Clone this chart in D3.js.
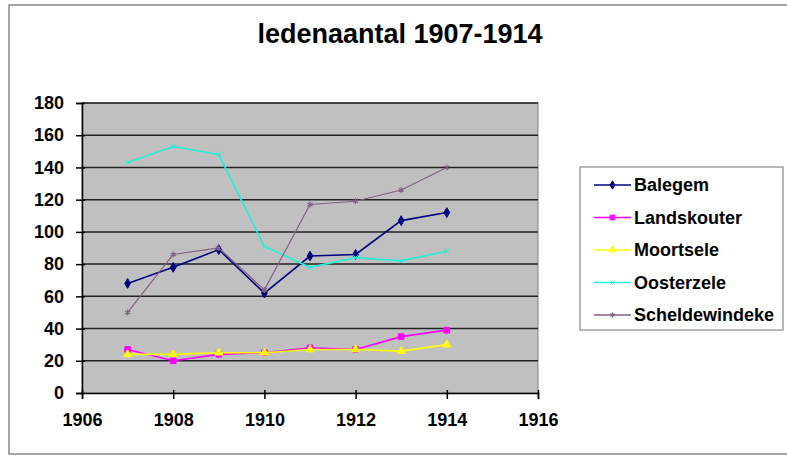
<!DOCTYPE html>
<html>
<head>
<meta charset="utf-8">
<script src="https://cdn.jsdelivr.net/npm/d3@7"></script>
<style>
  body { margin: 0; background: #fff; }
  text { font-family: "Liberation Sans", Arial, sans-serif; font-weight: bold; fill: #000; }
</style>
</head>
<body>
<div id="chart"></div>
<script>
var width = 787,
    height = 457;

// data
var years = [1907, 1908, 1909, 1910, 1911, 1912, 1913, 1914];
var balegem = [68, 78, 89, 62, 85, 86, 107, 112];
var landskouter = [27, 20, 24, 25, 28, 27, 35, 39];
var moortsele = [24, 24, 25, 25, 27, 27, 26, 30];
var oosterzele = [143, 153, 148, 91, 78, 84, 82, 88];
var scheldewindeke = [50, 86, 90, 64, 117, 119, 126, 140];
var seriesNames = ["Balegem", "Landskouter", "Moortsele", "Oosterzele", "Scheldewindeke"];
var xTicks = [1906, 1908, 1910, 1912, 1914, 1916];
var yTicks = [0, 20, 40, 60, 80, 100, 120, 140, 160, 180];

var series = [
  {name: seriesNames[0], values: balegem, color: "#000080", marker: "diamond"},
  {name: seriesNames[1], values: landskouter, color: "#ff00ff", marker: "square"},
  {name: seriesNames[2], values: moortsele, color: "#ffff00", marker: "triangle"},
  {name: seriesNames[3], values: oosterzele, color: "#22f0d8", marker: "x"},
  {name: seriesNames[4], values: scheldewindeke, color: "#806080", marker: "star"}
];

var plot = {left: 82, top: 103, right: 538, bottom: 393};

var svg = d3.select("#chart")
  .append("svg")
    .attr("width", width)
    .attr("height", height);

// chart area border
svg.append("rect")
  .attr("x", 9).attr("y", 5)
  .attr("width", 800).attr("height", 449)
  .attr("fill", "#fff")
  .attr("stroke", "#888")
  .attr("stroke-width", 1.5);

// title
svg.append("text")
  .attr("x", 400).attr("y", 43)
  .attr("text-anchor", "middle")
  .style("font-size", "27px")
  .text("ledenaantal 1907-1914");

var x = d3.scaleLinear().domain([1906, 1916]).range([plot.left, plot.right]);
var y = d3.scaleLinear().domain([0, 180]).range([plot.bottom, plot.top]);

// plot area
svg.append("rect")
  .attr("x", plot.left).attr("y", plot.top)
  .attr("width", plot.right - plot.left)
  .attr("height", plot.bottom - plot.top)
  .attr("fill", "#c0c0c0")
  .attr("stroke", "#808080")
  .attr("stroke-width", 1);

// gridlines
svg.append("g")
  .selectAll("line")
  .data(yTicks.slice(1))
  .enter().append("line")
    .attr("x1", plot.left).attr("x2", plot.right)
    .attr("y1", function(d) { return y(d); })
    .attr("y2", function(d) { return y(d); })
    .attr("stroke", "#222")
    .attr("stroke-width", 1.5);

// axes
var yAxis = svg.append("g")
  .attr("transform", "translate(" + plot.left + ",0)")
  .call(d3.axisLeft(y).tickValues(yTicks).tickSize(6).tickPadding(12));
var xAxis = svg.append("g")
  .attr("transform", "translate(0," + plot.bottom + ")")
  .call(d3.axisBottom(x).tickValues(xTicks).tickFormat(d3.format("d")).tickSize(6).tickPadding(14));

[yAxis, xAxis].forEach(function(a) {
  a.select(".domain").attr("stroke", "#000").attr("stroke-width", 1.5);
  a.selectAll(".tick line").attr("stroke", "#000").attr("stroke-width", 1.5);
  a.selectAll("text").style("font-size", "18px").attr("fill", "#000");
});
xAxis.selectAll(".tick line").attr("y1", -3);
yAxis.selectAll(".tick line").attr("x1", 3);

// markers
function drawMarker(g, type, color, size) {
  if (type === "diamond") {
    g.append("path").attr("d", d3.symbol(d3.symbolDiamond, size * 8)())
      .attr("fill", color).attr("stroke", color);
  } else if (type === "square") {
    g.append("path").attr("d", d3.symbol(d3.symbolSquare, size * 9)())
      .attr("fill", color).attr("stroke", color);
  } else if (type === "triangle") {
    g.append("path").attr("d", d3.symbol(d3.symbolTriangle, size * 8)())
      .attr("fill", color).attr("stroke", color);
  } else if (type === "x") {
    g.append("path").attr("d", d3.symbol(d3.symbolX, size * 5)())
      .attr("fill", "none").attr("stroke", color).attr("stroke-width", 1);
  } else if (type === "star") {
    g.append("path").attr("d", d3.symbol(d3.symbolAsterisk, size * 7)())
      .attr("fill", "none").attr("stroke", color).attr("stroke-width", 1.2);
  }
}

var line = d3.line()
  .x(function(d, i) { return x(years[i]); })
  .y(function(d) { return y(d); });

series.forEach(function(s) {
  var g = svg.append("g");
  g.append("path")
    .datum(s.values)
    .attr("d", line)
    .attr("fill", "none")
    .attr("stroke", s.color)
    .attr("stroke-width", s.marker === "star" ? 1.2 : 1.6);
  s.values.forEach(function(v, i) {
    var m = g.append("g").attr("transform", "translate(" + x(years[i]) + "," + y(v) + ")");
    drawMarker(m, s.marker, s.color, 3.5);
  });
});

// legend
var legend = svg.append("g");
legend.append("rect")
  .attr("x", 580).attr("y", 167)
  .attr("width", 203).attr("height", 163)
  .attr("fill", "#fff")
  .attr("stroke", "#888")
  .attr("stroke-width", 1.2);

series.forEach(function(s, i) {
  var ly = 185 + i * 32.5;
  var item = legend.append("g");
  item.append("line")
    .attr("x1", 594).attr("x2", 631)
    .attr("y1", ly).attr("y2", ly)
    .attr("stroke", s.color)
    .attr("stroke-width", 1.6);
  var m = item.append("g").attr("transform", "translate(612.5," + ly + ")");
  drawMarker(m, s.marker, s.color, 2.5);
  item.append("text")
    .attr("x", 634).attr("y", ly + 6)
    .style("font-size", "18px")
    .text(s.name);
});
</script>
</body>
</html>
